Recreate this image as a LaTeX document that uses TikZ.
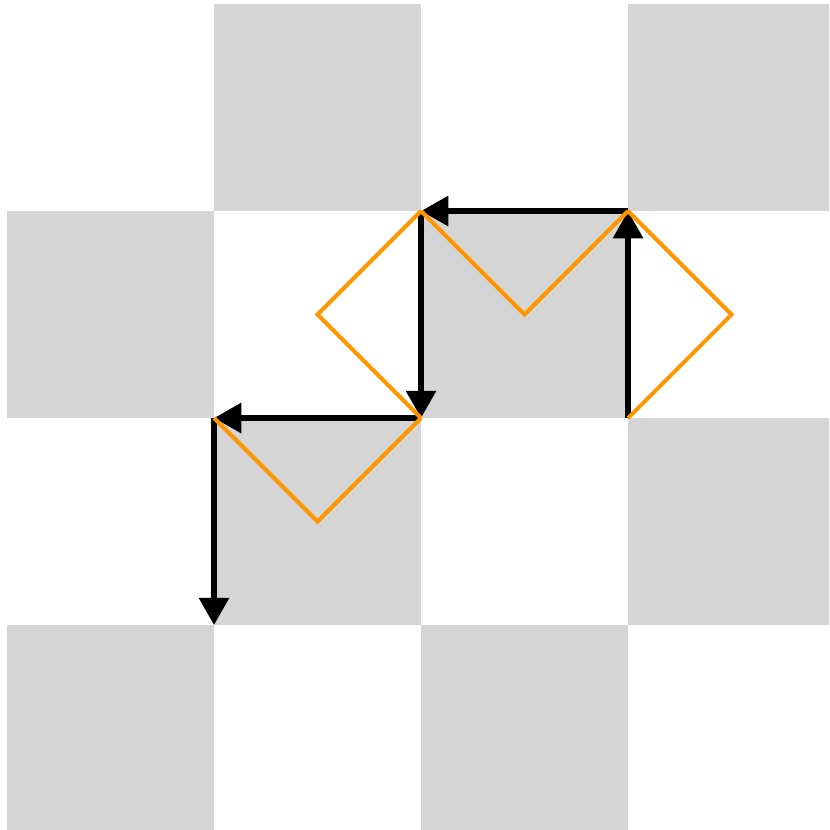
\documentclass[tikz,border=0pt]{standalone}
\usetikzlibrary{arrows.meta}
\definecolor{cellgray}{RGB}{213,213,213}
\definecolor{pathorange}{RGB}{255,150,0}
\tikzset{
  move/.style={line width=1.6pt, ->},
  fold/.style={pathorange, line width=1.1pt},
}
\begin{document}
\begin{tikzpicture}[x=2cm, y=2cm, line join=miter, >={Triangle[length=7.5pt,width=8pt]}]
\useasboundingbox (-0.0338,0.0193) rectangle (3.971,-3.990);
\clip (-0.0338,0.0193) rectangle (3.971,-3.990);
% board
\foreach \c in {0,...,3}
  \foreach \r in {0,...,3} {
    \pgfmathtruncatemacro\s{\c+\r}
    \ifodd\s \fill[cellgray] (\c,-\r) rectangle ++(1,-1); \fi
  }
% corners on the walk
\coordinate (p1) at (3,-2);
\coordinate (p2) at (3,-1);
\coordinate (p3) at (2,-1);
\coordinate (p4) at (2,-2);
\coordinate (p5) at (1,-2);
\coordinate (p6) at (1,-3);
% cell centres
\coordinate (m1) at (2.5,-1.5);
\coordinate (m2) at (3.5,-1.5);
\coordinate (m3) at (1.5,-1.5);
\coordinate (m4) at (1.5,-2.5);
			\draw[move] (p1) -- (p2);
			\draw[move] (p2) -- (p3);
			\draw[move] (p3) -- (p4);
			\draw[move] (p4) -- (p5);
			\draw[move] (p5) -- (p6);
			\draw[fold] (p3) -- (m1) -- (p2);
			\draw[fold] (p2) -- (m2) -- (p1);
			\draw[fold] (p3) -- (m3) -- (p4);
			\draw[fold] (p5) -- (m4) -- (p4);
		\end{tikzpicture}
\end{document}
